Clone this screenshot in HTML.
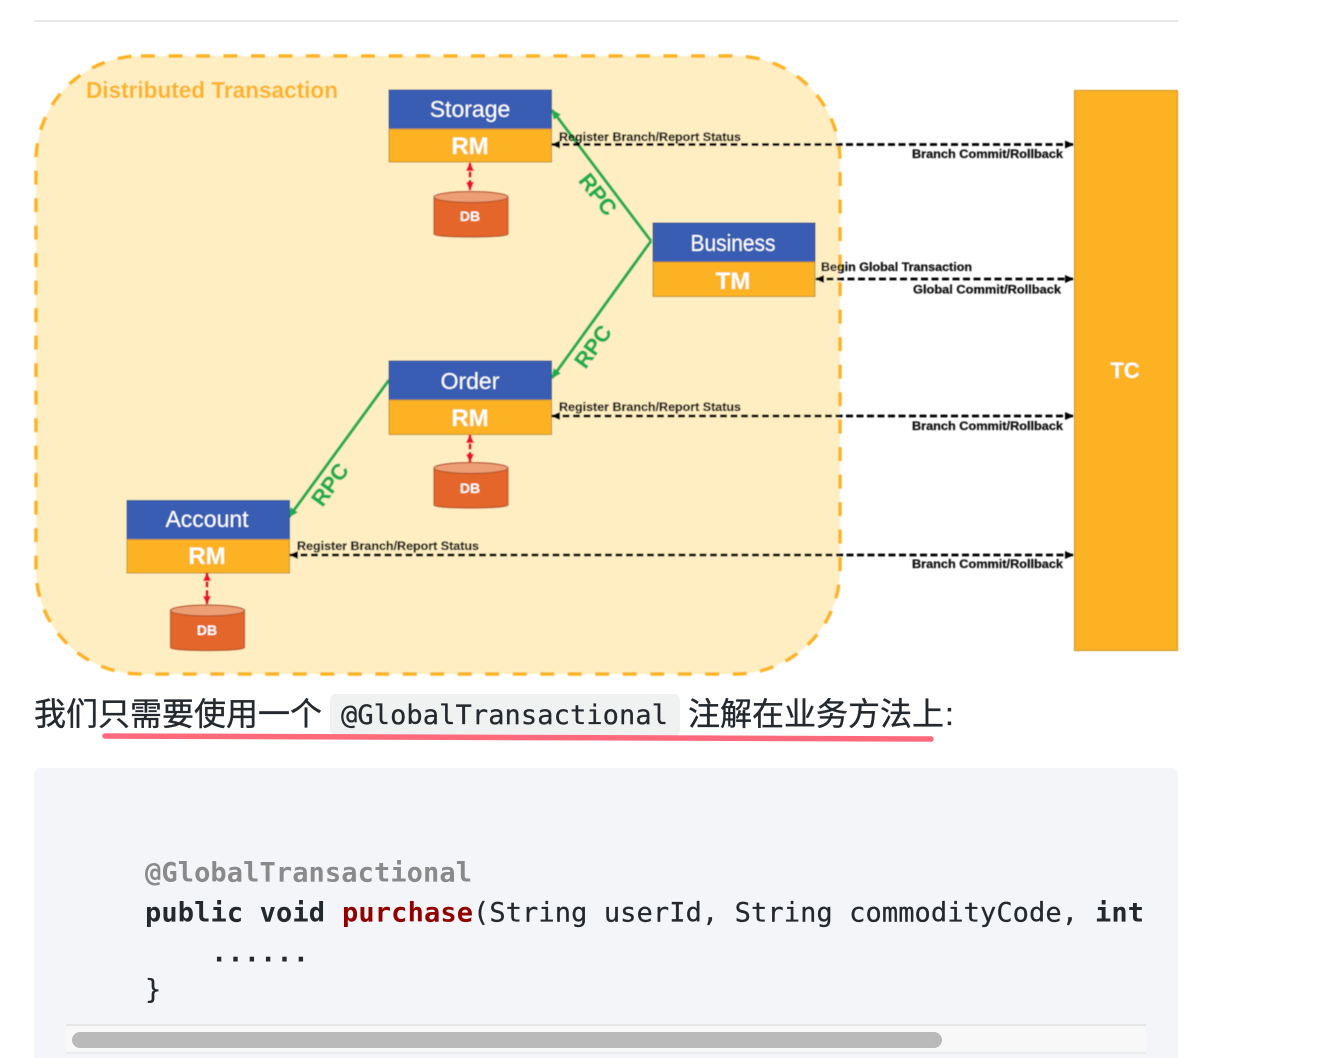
<!DOCTYPE html>
<html><head><meta charset="utf-8"><style>
html,body{margin:0;padding:0;background:#fff;width:1330px;height:1058px;overflow:hidden}
svg{display:block}
text{font-family:"Liberation Sans","Noto Sans CJK SC",sans-serif}
.m{font-family:"DejaVu Sans Mono","Liberation Mono",monospace;font-size:27px}
.lb{font-size:12px;font-weight:bold;fill:#111;stroke:#111;stroke-width:.25}
.h{font-size:23px;fill:#fff;text-anchor:middle}
.b{font-size:24px;font-weight:bold;fill:#fff;text-anchor:middle}
.db{font-size:14px;font-weight:bold;fill:#fff;text-anchor:middle}
.rpc{font-size:22px;font-weight:bold;fill:#1fae4e;stroke:#1fae4e;stroke-width:.4;text-anchor:middle}
.c{font-size:32px;fill:#24292e;stroke:#24292e;stroke-width:.35}
</style></head><body>
<svg width="1330" height="1058" viewBox="0 0 1330 1058" xmlns="http://www.w3.org/2000/svg">
<defs>
<marker id="ak" markerWidth="9" markerHeight="8" refX="8" refY="4" orient="auto-start-reverse" markerUnits="userSpaceOnUse"><path d="M0 0L9 4L0 8Z" fill="#000"/></marker>
<marker id="ar" markerWidth="9" markerHeight="8" refX="8" refY="4" orient="auto-start-reverse" markerUnits="userSpaceOnUse"><path d="M0 0L9 4L0 8Z" fill="#f01030"/></marker>
<marker id="ag" markerWidth="10" markerHeight="9" refX="9" refY="4.500" orient="auto" markerUnits="userSpaceOnUse"><path d="M0 0L10 4.500L0 9Z" fill="#1fae4e"/></marker>
<g id="cyl">
<path d="M0 6V43C0 47 74 47 74 43V6Z" fill="#e4662c" stroke="#b9572a" stroke-width="1.200"/>
<ellipse cx="37" cy="6" rx="37" ry="5.500" fill="#ed9e75" stroke="#b9572a" stroke-width="1.200"/>
</g>
<filter id="s" filterUnits="userSpaceOnUse" x="0" y="30" width="1330" height="660"><feGaussianBlur stdDeviation="0.4"/></filter>
</defs>

<rect x="34" y="20" width="1144" height="2" fill="#e8e8e8"/>

<g filter="url(#s)">
<rect x="36" y="56" width="804" height="618" rx="105" ry="105" fill="#feeec2" stroke="#fdb323" stroke-width="3.500" stroke-dasharray="14 13.500"/>
<text x="86" y="98" font-size="23" font-weight="bold" fill="#fdb323" textLength="252" lengthAdjust="spacingAndGlyphs">Distributed Transaction</text>

<rect x="1074.500" y="90.500" width="103" height="560" fill="#fcb223" stroke="#c99128" stroke-width="1"/>
<text x="1125" y="378" class="b" style="font-size:22px">TC</text>

<g stroke="#1fae4e" stroke-width="3.100" fill="none">
<path d="M651 241L552 110" marker-end="url(#ag)"/>
<path d="M651 241L552 378" marker-end="url(#ag)"/>
<path d="M389 380L289 517" marker-end="url(#ag)"/>
</g>
<text class="rpc" transform="translate(592,199) rotate(52)">RPC</text>
<text class="rpc" transform="translate(599,351) rotate(-54)">RPC</text>
<text class="rpc" transform="translate(336,489) rotate(-54)">RPC</text>

<rect x="389" y="90" width="162.500" height="39" fill="#385db3" stroke="#2f5597"/>
<rect x="389" y="129" width="162.500" height="33" fill="#fcb223" stroke="#bf902f"/>
<text x="470" y="117" class="h">Storage</text>
<text x="470" y="154" class="b">RM</text>
<rect x="653" y="223" width="162" height="39" fill="#385db3" stroke="#2f5597"/>
<rect x="653" y="262" width="162" height="34.500" fill="#fcb223" stroke="#bf902f"/>
<text x="733" y="251" class="h" textLength="85" lengthAdjust="spacingAndGlyphs">Business</text>
<text x="733" y="289" class="b">TM</text>
<rect x="389" y="361" width="162.500" height="39" fill="#385db3" stroke="#2f5597"/>
<rect x="389" y="400" width="162.500" height="34.500" fill="#fcb223" stroke="#bf902f"/>
<text x="470" y="389" class="h">Order</text>
<text x="470" y="426" class="b">RM</text>
<rect x="127" y="500.500" width="162.500" height="39" fill="#385db3" stroke="#2f5597"/>
<rect x="127" y="539.500" width="162.500" height="33.500" fill="#fcb223" stroke="#bf902f"/>
<text x="207" y="527" class="h">Account</text>
<text x="207" y="564" class="b">RM</text>

<g stroke="#f01030" stroke-width="3" stroke-dasharray="6 2.500" fill="none">
<path d="M470 163V190" marker-start="url(#ar)" marker-end="url(#ar)"/>
<path d="M470 435V462" marker-start="url(#ar)" marker-end="url(#ar)"/>
<path d="M207 573V604" marker-start="url(#ar)" marker-end="url(#ar)"/>
</g>
<use href="#cyl" x="434" y="191"/>
<use href="#cyl" x="434" y="462"/>
<use href="#cyl" x="170.500" y="604.500"/>
<text x="470" y="221" class="db">DB</text>
<text x="470" y="493" class="db">DB</text>
<text x="207" y="635" class="db">DB</text>

<g stroke="#000" stroke-width="2.800" stroke-dasharray="7 3.500" fill="none">
<path d="M552 144.500H1073" marker-start="url(#ak)" marker-end="url(#ak)"/>
<path d="M816 279H1073" marker-start="url(#ak)" marker-end="url(#ak)"/>
<path d="M552 416H1073" marker-start="url(#ak)" marker-end="url(#ak)"/>
<path d="M290 555H1073" marker-start="url(#ak)" marker-end="url(#ak)"/>
</g>
<text x="559" y="141" class="lb" textLength="182" lengthAdjust="spacingAndGlyphs">Register Branch/Report Status</text>
<text x="912" y="158" class="lb" textLength="151" lengthAdjust="spacingAndGlyphs">Branch Commit/Rollback</text>
<text x="821" y="271" class="lb" textLength="151" lengthAdjust="spacingAndGlyphs">Begin Global Transaction</text>
<text x="913" y="293.500" class="lb" textLength="148" lengthAdjust="spacingAndGlyphs">Global Commit/Rollback</text>
<text x="559" y="411" class="lb" textLength="182" lengthAdjust="spacingAndGlyphs">Register Branch/Report Status</text>
<text x="912" y="430" class="lb" textLength="151" lengthAdjust="spacingAndGlyphs">Branch Commit/Rollback</text>
<text x="297" y="550" class="lb" textLength="182" lengthAdjust="spacingAndGlyphs">Register Branch/Report Status</text>
<text x="912" y="568" class="lb" textLength="151" lengthAdjust="spacingAndGlyphs">Branch Commit/Rollback</text>
</g>

<rect x="330" y="694" width="350" height="42" rx="6" fill="#f0f1f1"/>
<text x="34" y="725" class="c" textLength="288">我们只需要使用一个</text>
<text x="341" y="724" class="m" fill="#24292e" stroke="#24292e" stroke-width=".25" textLength="327">@GlobalTransactional</text>
<text x="688" y="725" class="c" textLength="256">注解在业务方法上</text>
<text x="945" y="725" class="c">:</text>
<path d="M105 736L931 739" stroke="#fe6a7c" stroke-width="5.500" stroke-linecap="round" fill="none"/>

<path d="M34 1058V774a6 6 0 0 1 6-6H1172a6 6 0 0 1 6 6V1058Z" fill="#f4f5f9"/>
<text x="145" y="881.500" class="m" font-weight="bold" fill="#8a8a8a" textLength="327">@GlobalTransactional</text>
<text x="145" y="921.500" class="m" font-weight="bold" fill="#24292e" textLength="180">public void</text>
<text x="342" y="921.500" class="m" font-weight="bold" fill="#900000" textLength="131">purchase</text>
<text x="473" y="921.500" class="m" fill="#24292e" stroke="#24292e" stroke-width=".25" textLength="605">(String userId, String commodityCode,</text>
<text x="1095" y="921.500" class="m" font-weight="bold" fill="#24292e" textLength="49">int</text>
<text x="211" y="961.500" class="m" font-weight="bold" fill="#24292e" textLength="98">......</text>
<text x="145" y="998.500" class="m" fill="#24292e" stroke="#24292e" stroke-width=".25">}</text>

<rect x="66" y="1025" width="1080" height="28" fill="#f8f8f8"/>
<rect x="66" y="1024" width="1080" height="2" fill="#e6e7e7"/>
<rect x="66" y="1052" width="1080" height="2" fill="#ebecec"/>
<rect x="72" y="1032" width="870" height="16" rx="8" fill="#bababa"/>
</svg>
</body></html>
